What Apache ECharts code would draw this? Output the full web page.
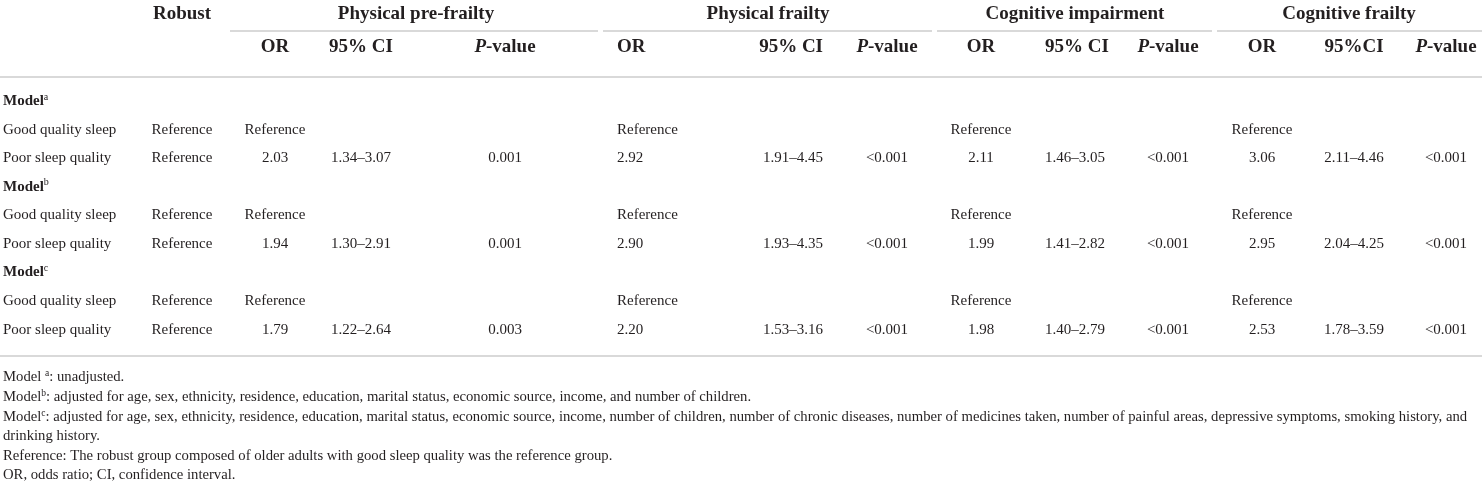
<!DOCTYPE html>
<html>
<head>
<meta charset="utf-8">
<script src="https://cdn.jsdelivr.net/npm/echarts@6/dist/echarts.min.js"></script>
<style>
html,body{margin:0;padding:0;background:#fff;}
#main{width:1482px;height:484px;}
</style>
</head>
<body>
<div id="main"></div>
<script>
// ---------- DATA ----------
const groupHeaders = ['Robust', 'Physical pre-frailty', 'Physical frailty', 'Cognitive impairment', 'Cognitive frailty'];
const subHeaders = [
  ['OR', '95% CI', 'P-value'],
  ['OR', '95% CI', 'P-value'],
  ['OR', '95% CI', 'P-value'],
  ['OR', '95%CI', 'P-value']
];
const models = ['a', 'b', 'c'];
const rowLabels = ['Good quality sleep', 'Poor sleep quality'];
const referenceText = 'Reference';

const preFrailOR = [2.03, 1.94, 1.79];
const preFrailCI = ['1.34–3.07', '1.30–2.91', '1.22–2.64'];
const preFrailP  = ['0.001', '0.001', '0.003'];

const physFrailOR = [2.92, 2.90, 2.20];
const physFrailCI = ['1.91–4.45', '1.93–4.35', '1.53–3.16'];
const physFrailP  = ['<0.001', '<0.001', '<0.001'];

const cogImpOR = [2.11, 1.99, 1.98];
const cogImpCI = ['1.46–3.05', '1.41–2.82', '1.40–2.79'];
const cogImpP  = ['<0.001', '<0.001', '<0.001'];

const cogFrailOR = [3.06, 2.95, 2.53];
const cogFrailCI = ['2.11–4.46', '2.04–4.25', '1.78–3.59'];
const cogFrailP  = ['<0.001', '<0.001', '<0.001'];

const footnotes = [
  'Model {sup|a}: unadjusted.',
  'Model{sup|b}: adjusted for age, sex, ethnicity, residence, education, marital status, economic source, income, and number of children.',
  'Model{sup|c}: adjusted for age, sex, ethnicity, residence, education, marital status, economic source, income, number of children, number of chronic diseases, number of medicines taken, number of painful areas, depressive symptoms, smoking history, and',
  'drinking history.',
  'Reference: The robust group composed of older adults with good sleep quality was the reference group.',
  'OR, odds ratio; CI, confidence interval.'
];

// ---------- LAYOUT (positions / styles) ----------
const W = 1482, H = 484;
const FONT = '"Liberation Serif", "Times New Roman", serif';
const TEXT = '#231f20';
const RULE = '#cdcdcd';

const groupX = [182, 416, 768, 1075, 1349];
// sub column anchors: [x, align]
const subCols = [
  [[275, 'center'], [361, 'center'], [505, 'center']],
  [[617, 'left'],   [823, 'right'],  [887, 'center']],
  [[981, 'center'], [1045, 'left'],  [1168, 'center']],
  [[1262, 'center'], [1354, 'center'], [1446, 'center']]
];
const robustCol = [182, 'center'];
const groupRules = [[230, 598], [603, 932], [937, 1212], [1217, 1482]];
const yHead1 = 14, yHead2 = 47, yRule1 = 31, yRule2 = 77, yRule3 = 356;
const yBodyStart = 101, rowStep = 28.6;
const footY = [377, 397, 417, 436, 456, 475];
const HEAD_SIZE = 19, BODY_SIZE = 15, FOOT_SIZE = 14.7;

// ---------- BUILD CELLS ----------
const cells = [];
const lines = [];
function cell(x, y, text, align, kind) { cells.push({x, y, text, align, kind}); }

groupHeaders.forEach((g, i) => cell(groupX[i], yHead1, g, 'center', 'head'));
subHeaders.forEach((grp, gi) => grp.forEach((s, si) => {
  const [x, al] = subCols[gi][si];
  const t = s === 'P-value' ? '{bi|P}{b|-value}' : s;
  cell(x, yHead2, t, al, 'head');
}));

const groupsData = [
  [preFrailOR, preFrailCI, preFrailP],
  [physFrailOR, physFrailCI, physFrailP],
  [cogImpOR, cogImpCI, cogImpP],
  [cogFrailOR, cogFrailCI, cogFrailP]
];

models.forEach((m, mi) => {
  const yModel = yBodyStart + rowStep * (mi * 3);
  const yGood = yModel + rowStep;
  const yPoor = yModel + rowStep * 2;
  cell(3, yModel, '{mb|Model}{sup|' + m + '}', 'left', 'body');
  cell(3, yGood, rowLabels[0], 'left', 'body');
  cell(3, yPoor, rowLabels[1], 'left', 'body');
  cell(robustCol[0], yGood, referenceText, robustCol[1], 'body');
  cell(robustCol[0], yPoor, referenceText, robustCol[1], 'body');
  groupsData.forEach((gd, gi) => {
    const [orArr, ciArr, pArr] = gd;
    cell(subCols[gi][0][0], yGood, referenceText, subCols[gi][0][1], 'body');
    cell(subCols[gi][0][0], yPoor, orArr[mi].toFixed(2), subCols[gi][0][1], 'body');
    cell(subCols[gi][1][0], yPoor, ciArr[mi], subCols[gi][1][1], 'body');
    cell(subCols[gi][2][0], yPoor, pArr[mi], subCols[gi][2][1], 'body');
  });
});

footnotes.forEach((f, i) => cell(3, footY[i], f, 'left', 'foot'));

groupRules.forEach(r => lines.push([r[0], yRule1, r[1], yRule1]));
lines.push([0, yRule2, W, yRule2]);
lines.push([0, yRule3, W, yRule3]);

const styles = {
  head: { fontSize: HEAD_SIZE, fontWeight: 'bold', rich: {
    b: { fontSize: HEAD_SIZE, fontWeight: 'bold', fontFamily: FONT, fill: TEXT },
    bi: { fontSize: HEAD_SIZE, fontWeight: 'bold', fontStyle: 'italic', fontFamily: FONT, fill: TEXT }
  }},
  body: { fontSize: BODY_SIZE, fontWeight: 'normal', rich: {
    mb: { fontSize: BODY_SIZE, fontWeight: 'bold', fontFamily: FONT, fill: TEXT, lineHeight: 18 },
    sup: { fontSize: 10, fontFamily: FONT, fill: TEXT, verticalAlign: 'top', lineHeight: 18 }
  }},
  foot: { fontSize: FOOT_SIZE, fontWeight: 'normal', rich: {
    sup: { fontSize: 9.5, fontFamily: FONT, fill: TEXT, verticalAlign: 'top', lineHeight: 17 }
  }}
};

// ---------- CHART ----------
const chart = echarts.init(document.getElementById('main'), null, {renderer: 'canvas'});
chart.setOption({
  animation: false,
  backgroundColor: '#ffffff',
  grid: { left: 0, right: 0, top: 0, bottom: 0 },
  xAxis: { type: 'value', min: 0, max: W, show: false },
  yAxis: { type: 'value', min: 0, max: H, inverse: true, show: false },
  series: [
    {
      type: 'custom',
      silent: true,
      clip: false,
      data: lines,
      renderItem: function (params, api) {
        const l = lines[params.dataIndex];
        const p1 = api.coord([l[0], l[1]]);
        const p2 = api.coord([l[2], l[3]]);
        return {
          type: 'line',
          shape: { x1: p1[0], y1: p1[1], x2: p2[0], y2: p2[1] },
          style: { stroke: RULE, lineWidth: 1.6 }
        };
      }
    },
    {
      type: 'custom',
      silent: true,
      clip: false,
      data: cells.map(c => [c.x, c.y]),
      renderItem: function (params, api) {
        const c = cells[params.dataIndex];
        const p = api.coord([c.x, c.y]);
        const st = styles[c.kind];
        return {
          type: 'text',
          x: p[0],
          y: p[1],
          style: {
            text: c.text,
            fontFamily: FONT,
            fontSize: st.fontSize,
            fontWeight: st.fontWeight,
            fill: TEXT,
            align: c.align,
            verticalAlign: 'middle',
            rich: st.rich
          }
        };
      }
    }
  ]
});
</script>
</body>
</html>
